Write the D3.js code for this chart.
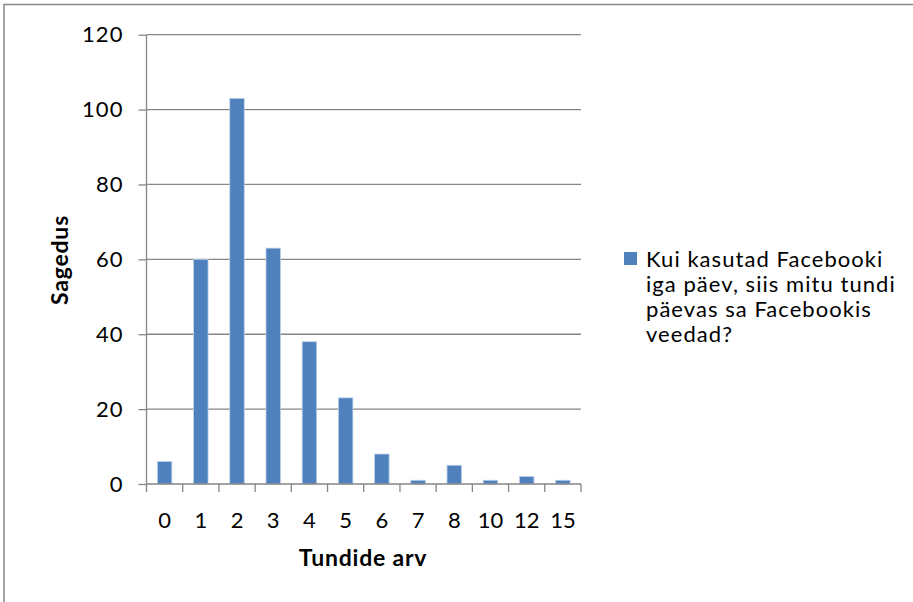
<!DOCTYPE html>
<html><head><meta charset="utf-8">
<script src="https://cdn.jsdelivr.net/npm/d3@7"></script>
<style>body{margin:0;background:#fff}svg{display:block}text{font-family:Lato,"Open Sans",sans-serif}</style>
</head><body><svg id="c" width="913" height="602"></svg>
<script>
const categories = ["0","1","2","3","4","5","6","7","8","10","12","15"];
const values = [6,60,103,63,38,23,8,1,5,1,2,1];
const yTicks = [0,20,40,60,80,100,120];
const legendLines = ["Kui kasutad Facebooki","iga päev, siis mitu tundi","päevas sa Facebookis","veedad?"];
const yTitle = "Sagedus", xTitle = "Tundide arv";

const FS = 22, LS = "1.05px";
const svg = d3.select("#c");
svg.append("rect").attr("x",4).attr("y",4.5).attr("width",1000).attr("height",1000)
  .attr("fill","#fff").attr("stroke","#868686").attr("stroke-width",1.5);

const m = {l:146.5, r:581, t:34.7, b:484};
const x = d3.scaleBand().domain(categories).range([m.l,m.r]).paddingInner(0.6).paddingOuter(0.3);
const y = d3.scaleLinear().domain([0,120]).range([m.b,m.t]);

// gridlines
svg.append("g").selectAll("line").data(yTicks.filter(d=>d>0)).join("line")
  .attr("x1",m.l).attr("x2",m.r).attr("y1",d=>y(d)).attr("y2",d=>y(d))
  .attr("stroke","#868686").attr("stroke-width",1.3);

// bars
svg.append("g").selectAll("rect").data(values).join("rect")
  .attr("x",(d,i)=>x(categories[i])).attr("width",x.bandwidth())
  .attr("y",d=>y(d)).attr("height",d=>y(0)-y(d))
  .attr("fill","#4f81bd").attr("stroke","#bcd0ea").attr("stroke-width",0.8);

// y axis
const ya = d3.axisLeft(y).tickValues(yTicks).tickSize(8).tickPadding(15);
const yg = svg.append("g").attr("transform",`translate(${m.l},0)`).call(ya);
yg.select(".domain").attr("stroke","#868686").attr("stroke-width",1.3).attr("d",`M0,${m.b}V${m.t}`);
yg.selectAll(".tick line").attr("stroke","#868686").attr("stroke-width",1.3);
yg.selectAll(".tick text").attr("font-size",FS).attr("fill","#000").attr("letter-spacing",LS)
  .style("font-family","Lato,'Open Sans',sans-serif");

// x axis
const xb = d3.scaleLinear().domain([0,categories.length]).range([m.l,m.r]);
const xg = svg.append("g").attr("transform",`translate(0,${m.b})`);
xg.append("line").attr("x1",m.l).attr("x2",m.r).attr("stroke","#868686").attr("stroke-width",1.3);
xg.selectAll("line.t").data(d3.range(categories.length+1)).join("line").attr("class","t")
  .attr("x1",d=>xb(d)).attr("x2",d=>xb(d)).attr("y1",0).attr("y2",8)
  .attr("stroke","#868686").attr("stroke-width",1.3);
xg.selectAll("text").data(categories).join("text")
  .attr("x",d=>x(d)+x.bandwidth()/2).attr("y",44).attr("text-anchor","middle")
  .attr("font-size",FS).attr("fill","#000").text(d=>d);

// titles
svg.append("text").attr("x",363).attr("y",566).attr("text-anchor","middle")
  .attr("font-size",FS+1).attr("letter-spacing","0.8px").attr("font-weight","bold").text(xTitle);
svg.append("text").attr("transform","translate(68,260) rotate(-90)").attr("text-anchor","middle")
  .attr("font-size",FS+1).attr("letter-spacing","0.8px").attr("font-weight","bold").text(yTitle);

// legend
svg.append("rect").attr("x",624).attr("y",252).attr("width",13).attr("height",13).attr("fill","#4f81bd");
svg.append("g").selectAll("text").data(legendLines).join("text")
  .attr("x",646).attr("y",(d,i)=>267+i*25).attr("font-size",FS).attr("letter-spacing",LS)
  .attr("fill","#000").text(d=>d);
</script></body></html>
